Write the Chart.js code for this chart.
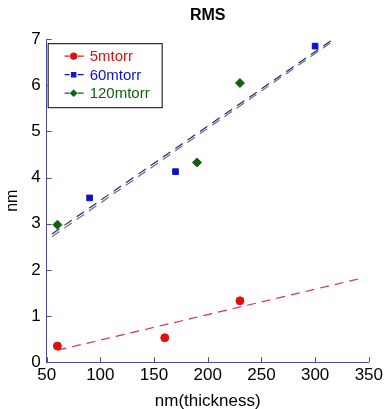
<!DOCTYPE html>
<html>
<head>
<meta charset="utf-8">
<script src="https://cdn.jsdelivr.net/npm/chart.js@4.4.0/dist/chart.umd.min.js"></script>
<style>
  html, body { margin: 0; padding: 0; background: #fff; }
  #wrap { width: 386px; height: 409px; }
</style>
</head>
<body>
<div id="wrap"><canvas id="myChart" width="386" height="409"></canvas></div>
<script>
// measured points
const x5 = [60, 160, 230];
const y5 = [0.35, 0.53, 1.33];
const x60 = [90, 170, 300];
const y60 = [3.56, 4.13, 6.85];
const x120 = [60, 190, 230];
const y120 = [2.98, 4.33, 6.05];

// dashed fit lines (end points)
const fit5X = [60, 345];
const fit5Y = [0.26, 1.83];
const fit60X = [55, 318];
const fit60Y = [2.72, 6.98];
const fit120X = [55, 318];
const fit120Y = [2.78, 7.02];

const xTicks = [50, 100, 150, 200, 250, 300, 350];
const yTicks = [0, 1, 2, 3, 4, 5, 6, 7];

const FONT = 'Arial, "Liberation Sans", sans-serif';
const AXIS_COLOR = '#4a4aa8';

function pts(xs, ys) {
    return xs.map(function (x, i) { return { x: x, y: ys[i] }; });
}

// legend box drawn inside the plot, matlab style
const boxLegend = {
    id: 'boxLegend',
    afterDraw: function (chart) {
        const ctx = chart.ctx;
        const area = chart.chartArea;
        const left = area.left + 1, top = area.top + 4;
        const items = chart.data.datasets.filter(function (d) { return d.inLegend; });
        ctx.save();
        ctx.fillStyle = '#fff';
        ctx.fillRect(left, top, 114, 64);
        ctx.strokeStyle = '#000';
        ctx.lineWidth = 1;
        ctx.strokeRect(left + 0.5, top + 0.5, 114, 64);
        items.forEach(function (d, i) {
            const y = top + 13 + i * 18.5;
            ctx.strokeStyle = d.borderColor;
            ctx.fillStyle = d.backgroundColor;
            ctx.lineWidth = 1.2;
            ctx.beginPath();
            ctx.moveTo(left + 17, y); ctx.lineTo(left + 22, y);
            ctx.moveTo(left + 30, y); ctx.lineTo(left + 36, y);
            ctx.stroke();
            Chart.helpers.drawPoint(ctx, {
                pointStyle: d.pointStyle,
                radius: 3,
                borderWidth: 1
            }, left + 26, y);
            ctx.fillStyle = d.borderColor;
            ctx.font = '15px ' + FONT;
            ctx.textBaseline = 'middle';
            ctx.fillText(d.label, left + 42, y + 1);
        });
        ctx.restore();
    }
};

// inward tick marks on left and bottom axes
const innerTicks = {
    id: 'innerTicks',
    afterDraw: function (chart) {
        const ctx = chart.ctx;
        const area = chart.chartArea;
        const xs = chart.scales.x, ys = chart.scales.y;
        ctx.save();
        ctx.strokeStyle = AXIS_COLOR;
        ctx.lineWidth = 1;
        ctx.beginPath();
        xTicks.forEach(function (v) {
            const px = Math.round(xs.getPixelForValue(v)) + 0.5;
            ctx.moveTo(px, area.bottom); ctx.lineTo(px, area.bottom - 5);
        });
        yTicks.forEach(function (v) {
            const py = Math.round(ys.getPixelForValue(v)) + 0.5;
            ctx.moveTo(area.left, py); ctx.lineTo(area.left + 5, py);
        });
        ctx.stroke();
        ctx.restore();
    }
};

const ctx = document.getElementById('myChart').getContext('2d');
const chart = new Chart(ctx, {
    type: 'scatter',
    data: {
        datasets: [
            {
                label: '5mtorr', inLegend: true,
                data: pts(x5, y5),
                pointStyle: 'circle', pointRadius: 4,
                backgroundColor: '#e01010', borderColor: '#e01010', borderWidth: 1
            },
            {
                label: '60mtorr', inLegend: true,
                data: pts(x60, y60),
                pointStyle: 'rect', pointRadius: 4,
                backgroundColor: '#1010d0', borderColor: '#1010d0', borderWidth: 1
            },
            {
                label: '120mtorr', inLegend: true,
                data: pts(x120, y120),
                pointStyle: 'rectRot', pointRadius: 4.5,
                backgroundColor: '#106010', borderColor: '#106010', borderWidth: 1
            },
            {
                label: 'fit 5', data: pts(fit5X, fit5Y), showLine: true,
                pointRadius: 0, borderColor: '#d83050', borderWidth: 1.2, borderDash: [9, 6]
            },
            {
                label: 'fit 60', data: pts(fit60X, fit60Y), showLine: true,
                pointRadius: 0, borderColor: '#5a6ab8', borderWidth: 1.2, borderDash: [9, 6]
            },
            {
                label: 'fit 120', data: pts(fit120X, fit120Y), showLine: true,
                pointRadius: 0, borderColor: '#303040', borderWidth: 1.2, borderDash: [9, 6]
            }
        ]
    },
    options: {
        responsive: false,
        animation: false,
        layout: { padding: { left: 3, right: 0, top: 0, bottom: -3 } },
        plugins: {
            legend: { display: false },
            tooltip: { enabled: false },
            title: {
                display: true, text: 'RMS', color: '#000', fullSize: false,
                font: { family: FONT, size: 16, weight: 'bold' },
                padding: { top: 6, bottom: 14 }
            }
        },
        scales: {
            x: {
                type: 'linear', min: 50, max: 350,
                afterBuildTicks: function (s) { s.ticks = xTicks.map(function (v) { return { value: v }; }); },
                grid: { display: false, drawTicks: false },
                border: { display: true, color: AXIS_COLOR, width: 1 },
                ticks: { color: '#000', padding: 3, font: { family: FONT, size: 17 } },
                title: {
                    display: true, text: 'nm(thickness)', color: '#000',
                    font: { family: FONT, size: 17 }, padding: { top: 3, bottom: 0 }
                }
            },
            y: {
                type: 'linear', min: 0, max: 7,
                afterBuildTicks: function (s) { s.ticks = yTicks.map(function (v) { return { value: v }; }); },
                grid: { display: false, drawTicks: false },
                border: { display: true, color: AXIS_COLOR, width: 1 },
                ticks: { color: '#000', padding: 6, font: { family: FONT, size: 17 } },
                title: {
                    display: true, text: 'nm', color: '#000',
                    font: { family: FONT, size: 16 }, padding: { top: 0, bottom: 3 }
                }
            }
        }
    },
    plugins: [innerTicks, boxLegend]
});
</script>
</body>
</html>
